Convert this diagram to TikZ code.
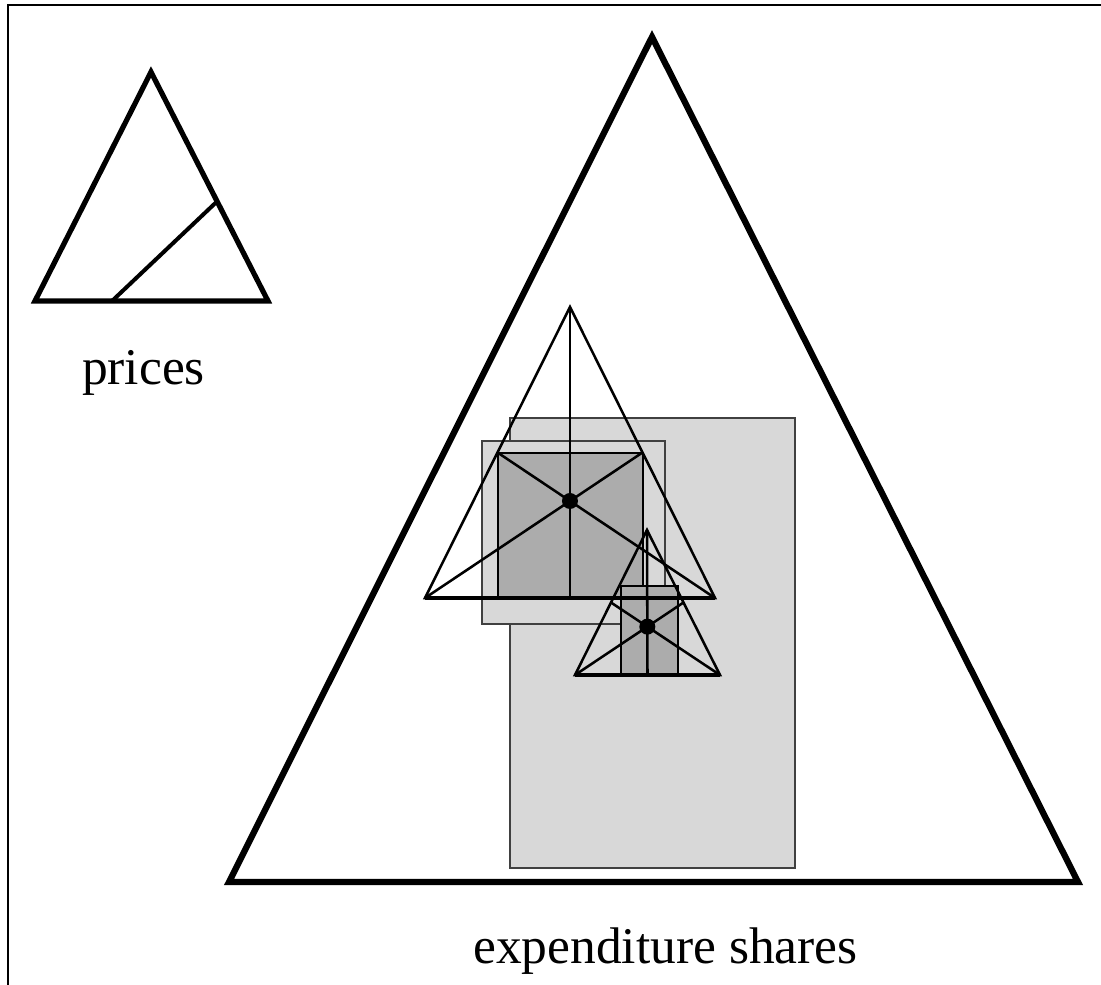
\documentclass[tikz,border=0pt]{standalone}
\usepackage{fontspec}
\setmainfont{Liberation Serif}
\usetikzlibrary{calc}
\definecolor{lightfill}{RGB}{216,216,216}
\definecolor{darkfill}{RGB}{172,172,172}
\begin{document}
\begin{tikzpicture}[x=0.75pt,y=-0.75pt,
  bigtri/.style={line width=4.7pt, line join=miter},
  pricetri/.style={line width=3.9pt, line join=miter},
  midtri/.style={line width=1.9pt, line join=miter},
  basetri/.style={line width=2.6pt},
  lightbox/.style={fill=lightfill, draw=black!75, line width=1.1pt},
  darkbox/.style={fill=darkfill, draw=black, line width=1.5pt},
  centre/.style={circle, fill=black, inner sep=0pt, minimum size=12pt},
  label/.style={font=\fontsize{38.6}{46}\selectfont, anchor=base, inner sep=0pt}]
\useasboundingbox (0,0) rectangle (1101,985);
\fill[white] (0,0) rectangle (1101,985);
% frame
\draw[line width=1.2pt] (8,985) -- (8,5) -- (1101,5);

% prices triangle
\coordinate (P1) at (151,72);
\coordinate (P2) at (35,301);
\coordinate (P3) at (268,301);
\draw[pricetri] (P1) -- (P2) -- (P3) -- cycle;
\coordinate (Q1) at (112,301);
\coordinate (Q2) at ($(P1)!0.565!(P3)$);
\draw[line width=3pt] (Q1) -- (Q2);
\node[label] (prices) at (143.5,384) {prices};

% big triangle
\coordinate (L1) at (652,37);
\coordinate (L2) at (229,882);
\coordinate (L3) at (1078,882);
\draw[bigtri] (L1) -- (L2) -- (L3) -- cycle;
\node[label] (shares) at (665.5,963) {expenditure shares};

% boxes
\draw[lightbox] (510,418) rectangle (795,868);
\draw[lightbox] (482,441) rectangle (665,624);

% upper triangle
\coordinate (A) at (570,307);
\coordinate (B) at (425,598);
\coordinate (C) at (715,598);
\coordinate (mAB) at ($(A)!0.5!(B)$);
\coordinate (mAC) at ($(A)!0.5!(C)$);
\coordinate (mBC) at ($(B)!0.5!(C)$);
\draw[darkbox] (mAB) rectangle (mAC |- B);

% lower triangle box
\coordinate (A2) at (647,530);
\coordinate (B2) at (575,675);
\coordinate (C2) at (720,675);
\draw[darkbox] (621,586) rectangle (678,675);

% upper triangle lines
\draw[midtri] (A) -- (B) -- (C) -- cycle;
\draw[midtri] (A) -- (mBC);
\draw[midtri] (B) -- (mAC);
\draw[midtri] (C) -- (mAB);
\draw[basetri] (B) -- (C);
\node[centre] (g1) at ($1/3*(A)+1/3*(B)+1/3*(C)$) {};

% lower triangle lines
\coordinate (nAB) at ($(A2)!0.5!(B2)$);
\coordinate (nAC) at ($(A2)!0.5!(C2)$);
\coordinate (nBC) at ($(B2)!0.5!(C2)$);
\draw[midtri] (A2) -- (B2) -- (C2) -- cycle;
\draw[midtri] (A2) -- (nBC);
\draw[midtri] (B2) -- (nAC);
\draw[midtri] (C2) -- (nAB);
\draw[basetri] (B2) -- (C2);
\node[centre] (g2) at ($1/3*(A2)+1/3*(B2)+1/3*(C2)$) {};
\end{tikzpicture}
\end{document}
